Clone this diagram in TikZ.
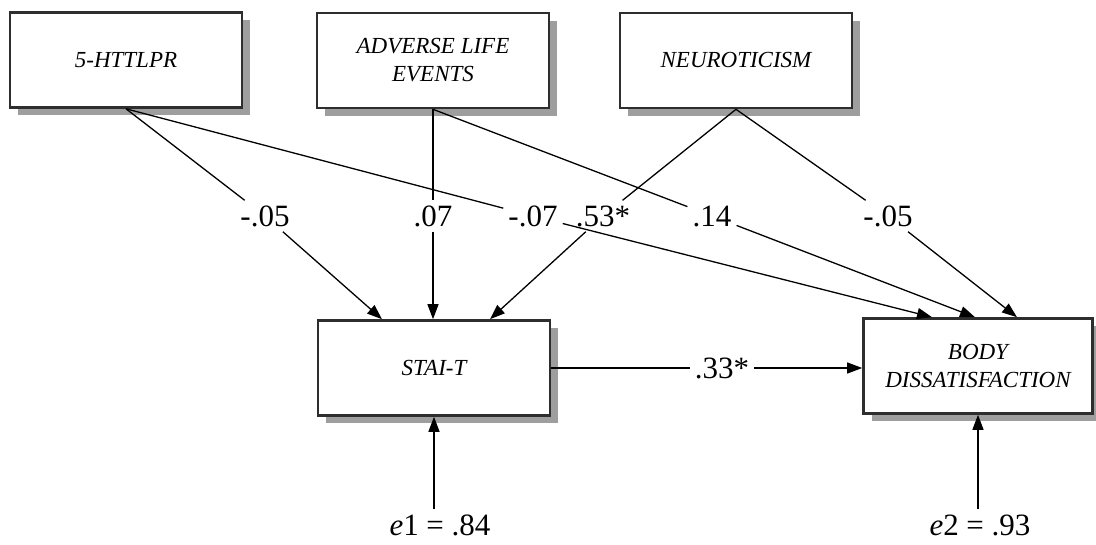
\documentclass[tikz,border=0pt]{standalone}
\usepackage{fontspec}
\setmainfont{Liberation Serif}
\usetikzlibrary{arrows.meta,shadows}
\begin{document}
\begin{tikzpicture}[x=1pt,y=-1pt,
  var/.style={draw=black!82, line width=2.6pt, fill=white,
    minimum width=232pt, minimum height=95pt, align=center, inner sep=0pt,
    font=\fontsize{23}{28}\selectfont\itshape,
    drop shadow={shadow xshift=8pt, shadow yshift=-8pt, fill=black!38, opacity=1}},
  coef/.style={font=\fontsize{31}{36}\selectfont, inner sep=5pt},
  link/.style={line width=1.3pt, draw=black},
  arr/.style={link, -{Triangle[length=15pt,width=11pt]}}]
\useasboundingbox (0,0) rectangle (1096,545);
\fill[white] (0,0) rectangle (1096,545);
% variables
\node[var] (gene) at (126,60) {5-HTTLPR};
\node[var] (ale) at (433,60.5) {ADVERSE LIFE\\EVENTS};
\node[var] (neu) at (736,60.5) {NEUROTICISM};
\node[var] (stai) at (434,368) {STAI-T};
\node[var, minimum width=229pt] (body) at (978,366) {BODY\\DISSATISFACTION};
% coefficients
\node[coef] (g1) at (265,216) {-.05};
\node[coef] (a1) at (433,216) {.07};
\node[coef] (g2) at (533,216) {-.07};
\node[coef] (n1) at (603,216) {.53*};
\node[coef] (a2) at (712,216) {.14};
\node[coef] (n2) at (888,216) {-.05};
\node[coef] (sb) at (722,368) {.33*};
\node[coef] (e1) at (440,525) {\textit{e}1 = .84};
\node[coef] (e2) at (980,525) {\textit{e}2 = .93};
% paths
\draw[link] (gene.south) -- (g1);
\draw[arr] (g1) -- ([xshift=-52pt]stai.north);
\draw[link] (gene.south) -- (g2);
\draw[arr] (g2) -- ([xshift=-46pt]body.north);
\draw[link] (ale.south) -- (a1);
\draw[arr] (a1) -- ([xshift=-1pt]stai.north);
\draw[link] (ale.south) -- (a2);
\draw[arr] (a2) -- ([xshift=-3pt]body.north);
\draw[link] (neu.south) -- (n1);
\draw[arr] (n1) -- ([xshift=56pt]stai.north);
\draw[link] (neu.south) -- (n2);
\draw[arr] (n2) -- ([xshift=39pt]body.north);
\draw[link] (stai.east) -- (sb);
\draw[arr] (sb) -- (body.west |- sb);
\draw[arr] (e1.north -| stai.south) -- (stai.south);
\draw[arr] (e2.north -| body.south) -- (body.south);
\end{tikzpicture}
\end{document}
